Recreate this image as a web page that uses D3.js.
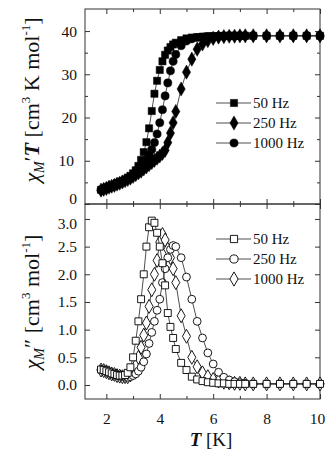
<!DOCTYPE html>
<html>
<head>
<meta charset="utf-8">
<script src="https://cdn.jsdelivr.net/npm/d3@7"></script>
<style>
  body { margin: 0; background: #fff; }
  text { font-family: "Liberation Serif", serif; fill: #111; }
</style>
</head>
<body>
<svg width="326" height="453"></svg>
<script>
// temperatures (K), shared by all six series
var temps = [1.8,1.9,2.0,2.1,2.2,2.3,2.4,2.5,2.6,2.7,2.8,2.9,3.0,3.1,3.2,3.3,3.4,3.5,3.6,3.7,3.8,3.9,4.0,4.1,4.2,4.3,4.4,4.5,4.6,
             4.8,5.0,5.2,5.4,5.6,5.8,6.0,6.2,6.4,6.6,6.8,7.0,7.2,
             7.5,8.0,8.5,9.0,9.5,10.0];

// chi' T (cm3 K mol-1)
var chiT50   = [3.3,3.5,3.8,4.0,4.3,4.5,4.8,5.0,5.3,5.6,6.0,6.5,7.1,7.8,8.8,10.2,12.0,14.3,17.5,21.5,25.5,28.5,31.0,33.0,34.5,35.5,36.3,36.9,37.3,
                37.9,38.3,38.5,38.6,38.7,38.8,38.8,38.8,38.9,38.9,38.9,38.9,38.9,
                38.9,38.9,38.9,38.9,38.9,38.9];
var chiT250  = [3.2,3.4,3.6,3.9,4.1,4.3,4.6,4.8,5.1,5.4,5.7,6.0,6.4,6.8,7.2,7.6,8.1,8.6,9.1,9.6,10.1,10.6,11.1,11.7,12.4,14.2,16.4,18.8,21.4,
                26.6,30.5,33.5,35.8,37.0,37.8,38.3,38.6,38.7,38.8,38.8,38.9,38.9,
                38.9,38.9,38.9,38.9,38.9,38.9];
var chiT1000 = [3.2,3.4,3.7,3.9,4.2,4.4,4.7,4.9,5.2,5.5,5.8,6.2,6.7,7.2,7.8,8.5,9.3,10.2,11.3,12.6,14.2,16.2,18.8,21.8,25.0,28.0,30.8,33.0,34.6,
                36.6,37.7,38.2,38.5,38.6,38.7,38.8,38.8,38.8,38.9,38.9,38.9,38.9,
                38.9,38.9,38.9,38.9,38.9,38.9];

// chi'' (cm3 mol-1)
var chi2_50   = [0.28,0.27,0.25,0.23,0.21,0.20,0.18,0.17,0.17,0.18,0.22,0.32,0.50,0.80,1.15,1.55,2.00,2.50,2.85,2.97,2.93,2.75,2.50,2.20,1.80,1.30,1.05,0.85,0.65,
                 0.40,0.27,0.15,0.10,0.07,0.05,0.04,0.03,0.03,0.02,0.02,0.02,0.02,
                 0.02,0.02,0.02,0.02,0.02,0.02];
var chi2_250  = [0.28,0.26,0.24,0.22,0.20,0.18,0.17,0.16,0.15,0.14,0.14,0.15,0.17,0.20,0.25,0.32,0.42,0.56,0.75,0.95,1.15,1.35,1.55,1.85,2.10,2.30,2.45,2.52,2.50,
                 2.30,1.95,1.55,1.15,0.85,0.58,0.38,0.23,0.14,0.09,0.06,0.04,0.03,
                 0.02,0.02,0.02,0.02,0.02,0.02];
var chi2_1000 = [0.27,0.26,0.24,0.22,0.20,0.19,0.17,0.16,0.15,0.15,0.15,0.18,0.25,0.35,0.50,0.68,0.90,1.12,1.42,1.72,2.00,2.25,2.58,2.72,2.62,2.45,2.30,2.10,1.85,
                 1.25,0.88,0.50,0.33,0.22,0.15,0.10,0.07,0.05,0.04,0.03,0.03,0.02,
                 0.02,0.02,0.02,0.02,0.02,0.02];

var legendTop = ["50 Hz", "250 Hz", "1000 Hz"];
var legendBot = ["50 Hz", "250 Hz", "1000 Hz"];

var svg = d3.select("svg");
var x = d3.scaleLinear().domain([1.2, 10]).range([85, 320]);
var yTop = d3.scaleLinear().domain([0, 45.1]).range([204, 9]);
var yBot = d3.scaleLinear().domain([-0.253, 3.27]).range([399, 204]);

var tickFont = "15.5px";

function panel(y, yMajor, yMinor, fmt, showX, cls) {
  var r0 = y.range()[0], r1 = y.range()[1];
  // frame
  svg.append("rect").attr("x", 85).attr("y", r1).attr("width", 235).attr("height", r0 - r1)
    .attr("fill", "none").attr("stroke", "#333").attr("stroke-width", 1);

  svg.append("g").attr("transform", "translate(0," + r0 + ")")
    .call(d3.axisBottom(x).tickValues([2,4,6,8,10]).tickSize(-5).tickPadding(14).tickFormat(showX ? d3.format("d") : ""));
  svg.append("g").attr("transform", "translate(0," + r0 + ")")
    .call(d3.axisBottom(x).tickValues([3,5,7,9]).tickSize(-3).tickFormat(""));
  svg.append("g").attr("transform", "translate(0," + r1 + ")")
    .call(d3.axisTop(x).tickValues([2,4,6,8,10]).tickSize(-5).tickFormat(""));
  svg.append("g").attr("transform", "translate(0," + r1 + ")")
    .call(d3.axisTop(x).tickValues([3,5,7,9]).tickSize(-3).tickFormat(""));

  svg.append("g").attr("class", cls).attr("transform", "translate(85,0)")
    .call(d3.axisLeft(y).tickValues(yMajor).tickSize(-5).tickPadding(8).tickFormat(fmt));
  svg.append("g").attr("transform", "translate(85,0)")
    .call(d3.axisLeft(y).tickValues(yMinor).tickSize(-3).tickFormat(""));
  svg.append("g").attr("transform", "translate(320,0)")
    .call(d3.axisRight(y).tickValues(yMajor).tickSize(-5).tickFormat(""));
  svg.append("g").attr("transform", "translate(320,0)")
    .call(d3.axisRight(y).tickValues(yMinor).tickSize(-3).tickFormat(""));
}

panel(yTop, [0,10,20,30,40], [5,15,25,35], d3.format("d"), false, "ytop");
panel(yBot, [0,0.5,1,1.5,2,2.5,3], [], d3.format(".1f"), true, "ybot");

svg.selectAll(".domain").remove();
svg.selectAll(".tick line").attr("stroke", "#333");
svg.selectAll(".tick text").attr("font-family", null).attr("font-size", null)
  .style("font-family", "'Liberation Serif', serif").style("font-size", tickFont).attr("fill", "#111");
// keep the last x label inside the picture
svg.selectAll(".tick text").filter(function(d) { return d === 10 && this.textContent === "10"; }).attr("dx", -3);
// "0" of the top panel and "3.0" of the bottom panel sit close together
svg.selectAll(".ytop .tick text").filter(function(d) { return d === 0; }).attr("dy", "-0.05em");
svg.selectAll(".ybot .tick text").filter(function(d) { return d === 3; }).attr("dy", "0.62em");

function series(y, vals, sym, size, filled) {
  var line = d3.line().x(function(d, i) { return x(temps[i]); }).y(function(d) { return y(d); });
  svg.append("path").datum(vals).attr("d", line)
    .attr("fill", "none").attr("stroke", "#222").attr("stroke-width", 0.8);
  svg.append("g").selectAll("path").data(vals).enter().append("path")
    .attr("transform", function(d, i) { return "translate(" + x(temps[i]) + "," + y(d) + ")"; })
    .attr("d", d3.symbol().type(sym).size(size))
    .attr("fill", filled ? "#000" : "#fff")
    .attr("stroke", "#000").attr("stroke-width", filled ? 0.5 : 0.9);
}

// top panel: filled
series(yTop, chiT50, d3.symbolSquare, 52, true);
series(yTop, chiT250, d3.symbolDiamond, 58, true);
series(yTop, chiT1000, d3.symbolCircle, 52, true);

// bottom panel: open
series(yBot, chi2_1000, d3.symbolDiamond, 56, false);
series(yBot, chi2_250, d3.symbolCircle, 48, false);
series(yBot, chi2_50, d3.symbolSquare, 48, false);

function legend(names, syms, filled, y0) {
  names.forEach(function(n, i) {
    var yy = y0 + i * 20;
    svg.append("line").attr("x1", 216).attr("x2", 251).attr("y1", yy).attr("y2", yy)
      .attr("stroke", "#222").attr("stroke-width", 0.8);
    svg.append("path").attr("transform", "translate(234," + yy + ")")
      .attr("d", d3.symbol().type(syms[i]).size(syms[i] === d3.symbolDiamond ? 58 : 52))
      .attr("fill", filled ? "#000" : "#fff").attr("stroke", "#000").attr("stroke-width", filled ? 0.5 : 0.9);
    svg.append("text").attr("x", 253).attr("y", yy + 5).style("font-size", "15px").text(n);
  });
}
legend(legendTop, [d3.symbolSquare, d3.symbolDiamond, d3.symbolCircle], true, 103);
legend(legendBot, [d3.symbolSquare, d3.symbolCircle, d3.symbolDiamond], false, 239);

// axis titles
function ylabel(cy, prime, unitParts) {
  var t = svg.append("text").attr("transform", "translate(39," + cy + ") rotate(-90)")
    .attr("text-anchor", "middle").style("font-size", "22px");
  t.append("tspan").style("font-style", "italic").text("χ");
  t.append("tspan").style("font-style", "italic").style("font-size", "14px").attr("dy", 5).text("M");
  t.append("tspan").attr("dy", -5).text(prime);
  if (prime === "′") t.append("tspan").style("font-style", "italic").style("font-weight", "bold").text("T");
  unitParts.forEach(function(p) {
    if (p.sup) t.append("tspan").style("font-size", "13px").attr("dy", -9).text(p.s);
    else t.append("tspan").attr("dy", p.after ? 9 : 0).text(p.s);
  });
}
ylabel(100, "′", [{s: " [cm"}, {s: "3", sup: true}, {s: " K mol", after: true}, {s: "-1", sup: true}, {s: "]", after: true}]);
ylabel(302, "″", [{s: " [cm"}, {s: "3", sup: true}, {s: " mol", after: true}, {s: "-1", sup: true}, {s: "]", after: true}]);

var xl = svg.append("text").attr("x", 211).attr("y", 446).attr("text-anchor", "middle").style("font-size", "19px");
xl.append("tspan").style("font-style", "italic").style("font-weight", "bold").text("T");
xl.append("tspan").text(" [K]");
</script>
</body>
</html>
